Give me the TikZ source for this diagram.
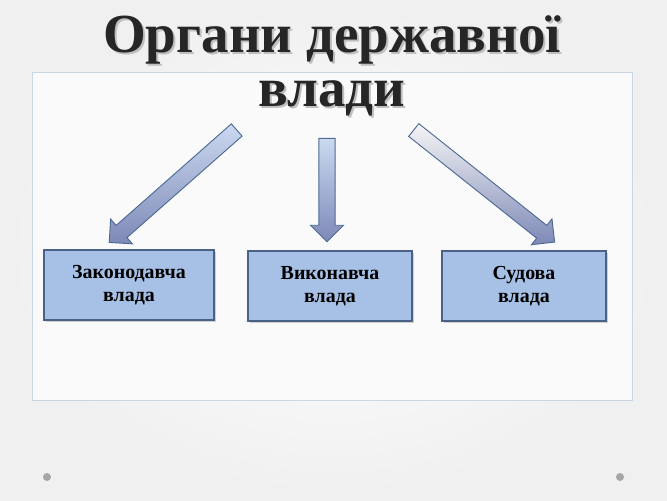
\documentclass[tikz,border=0pt]{standalone}
\usepackage{fontspec}
\setmainfont{Liberation Serif}
\usetikzlibrary{shapes.arrows,shadows}
\definecolor{boxfill}{HTML}{A7C0E6}
\definecolor{boxline}{HTML}{4A6286}
\definecolor{arrowline}{HTML}{4E6A95}
\definecolor{framecol}{HTML}{C9D6E6}
\tikzset{
  powerbox/.style={draw=boxline, line width=1.6pt, fill=boxfill, minimum width=5.1cm,
    minimum height=2.1cm, align=center, font=\bfseries\fontsize{17}{20}\selectfont,
    drop shadow={opacity=.35, shadow xshift=.06cm, shadow yshift=-.06cm}},
  blockarrow/.style={single arrow, draw=arrowline, line width=.8pt, inner sep=.23cm,
    text height=0pt, text depth=0pt, text width=0pt, single arrow head extend=.25cm,
    top color=#1, bottom color=boxfill!80!blue!70!black!80},
  titletext/.style={font=\bfseries\fontsize{47}{46}\selectfont, align=center},
}
\begin{document}
\begin{tikzpicture}[x=0.03cm, y=-0.03cm]
  % background
  \useasboundingbox (0,0) rectangle (667,500);
  \shade[inner color=white, outer color=gray!12] (0,0) rectangle (667,500);
  \draw[framecol, fill=white!96!gray] (32,72) rectangle (632,400);
  \fill[gray!70] (47,477) circle (.12cm);
  \fill[gray!70] (620,477) circle (.12cm);
  % title
  \node[titletext, text=black!25] at (334,68) {Органи державної\\влади};
  \node (title) [titletext, text=black!85] at (332,66) {Органи державної\\влади};
  % boxes
  \node (leg) [powerbox] at (129,285) {Законодавча\\влада};
  \node (exe) [powerbox, minimum width=4.9cm] at (330,286) {Виконавча\\влада};
  \node (jud) [powerbox, minimum width=4.9cm] at (524,286) {Судова\\влада};
  % arrows
  \node (aleg) [blockarrow=boxfill!60!white, minimum height=5.1cm, rotate=221.4] at (176,183.5) {};
  \node (aexe) [blockarrow=boxfill!60!white, minimum height=3.1cm, rotate=-90] at (327,186) {};
  \node (ajud) [blockarrow=gray!8, minimum height=5.4cm, rotate=-38.5] at (481,183.5) {};
\end{tikzpicture}
\end{document}
